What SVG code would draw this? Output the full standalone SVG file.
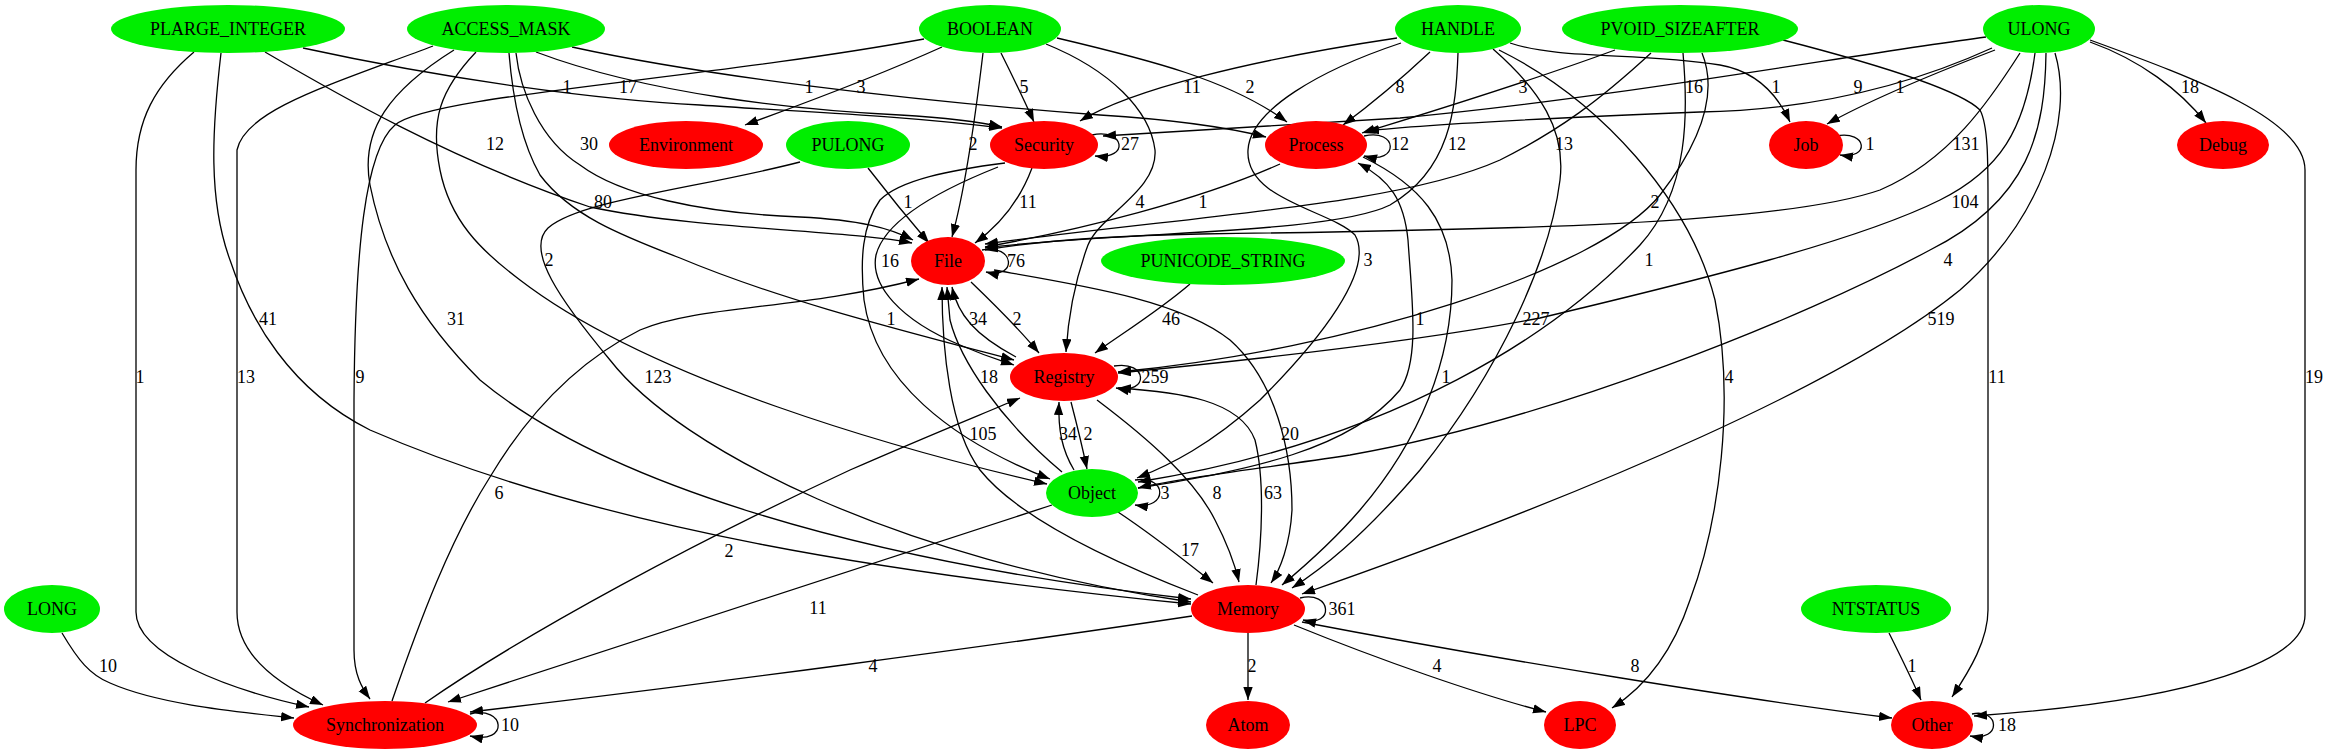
<svg xmlns="http://www.w3.org/2000/svg" width="2329" height="755" viewBox="0 0 2329 755">
<defs>
<marker id="ah" markerUnits="userSpaceOnUse" markerWidth="14" markerHeight="10" refX="13" refY="4.7" orient="auto">
<path d="M0,0 L13,4.7 L0,9.4 z" fill="#000"/>
</marker>
<style>
.g ellipse{fill:#00ee00;stroke:none}
.r ellipse{fill:#ff0000;stroke:none}
text{font-family:"Liberation Serif","Times New Roman",serif;font-size:18px;fill:#000;text-anchor:middle}
#edges path{fill:none;stroke:#000;stroke-width:1.3;marker-end:url(#ah)}
</style>
</defs>
<rect width="2329" height="755" fill="#fff"/>
<g id="edges">
<g><path d="M194,52 C155,85 136,120 136,170 L136,612 C136,655 230,690 309,707"/><text x="140" y="383">1</text></g>
<g><path d="M433,46 C330,85 245,110 237,150 L237,612 C237,660 290,690 323,705"/><text x="246" y="383">13</text></g>
<g><path d="M924,39 C700,80 430,95 395,125 C365,150 355,250 354,400 L354,650 C354,675 362,688 370,699"/><text x="360" y="383">9</text></g>
<g><path d="M62,633 C78,660 90,675 110,683 C160,705 240,712 294,718"/><text x="108" y="672">10</text></g>
<g><path d="M470,714 C505,705 510,745 470,736"/><text x="510" y="731">10</text></g>
<g><path d="M1052,505 C920,550 700,620 448,702"/><text x="818" y="614">11</text></g>
<g><path d="M1192,616 C1000,645 700,685 470,712"/><text x="873" y="672">4</text></g>
<g><path d="M425,703 C530,630 700,540 850,470 C930,435 980,415 1020,398"/><text x="729" y="557">2</text></g>
<g><path d="M392,701 C420,620 450,540 490,477 C530,410 580,360 640,330 C700,305 800,310 919,279"/><text x="499" y="499">6</text></g>
<g><path d="M221,53 C212,130 208,200 230,260 C250,320 290,390 370,430 C600,530 900,575 1191,604"/><text x="268" y="325">41</text></g>
<g><path d="M454,50 C390,90 360,130 370,185 C385,260 420,320 480,380 C600,480 850,560 1191,599"/><text x="456" y="325">31</text></g>
<g><path d="M800,162 C700,188 580,200 548,228 C525,250 560,300 610,360 C680,450 900,560 1191,602"/><text x="658" y="383">123</text></g>
<g><path d="M476,52 C440,90 430,120 440,170 C450,220 480,250 520,280 C650,380 900,450 1047,484"/><text x="549" y="266">2</text></g>
<g><path d="M509,53 C512,90 520,140 540,175 C570,215 620,235 680,258 C780,300 900,330 1014,360"/><text x="603" y="208">80</text></g>
<g><path d="M516,53 C520,90 540,140 580,165 C620,195 700,213 800,217 C860,220 890,228 913,240"/><text x="589" y="150">30</text></g>
<g><path d="M265,52 C330,90 450,160 590,207 C700,230 850,230 912,243"/><text x="495" y="150">12</text></g>
<g><path d="M536,52 C650,95 800,110 900,115 C950,118 980,122 1002,127"/><text x="628" y="93">17</text></g>
<g><path d="M303,48 C450,80 600,100 700,105 C800,112 900,115 1002,128"/><text x="567" y="93">1</text></g>
<g><path d="M572,47 C700,75 900,100 1100,115 C1180,120 1230,128 1266,137"/><text x="809" y="93">1</text></g>
<g><path d="M942,47 C880,75 800,105 745,125"/><text x="861" y="93">3</text></g>
<g><path d="M983,53 C975,120 965,190 952,237"/><text x="973" y="150">2</text></g>
<g><path d="M1001,53 C1012,75 1024,100 1034,122"/><text x="1024" y="93">5</text></g>
<g><path d="M1046,44 C1110,70 1150,110 1155,150 C1158,190 1100,215 1088,245 C1075,280 1068,320 1066,352"/><text x="1140" y="208">4</text></g>
<g><path d="M1057,38 C1150,60 1230,80 1287,122"/><text x="1250" y="93">2</text></g>
<g><path d="M1397,38 C1250,60 1130,90 1080,121"/><text x="1192" y="93">11</text></g>
<g><path d="M1430,52 C1400,80 1370,105 1343,125"/><text x="1400" y="93">8</text></g>
<g><path d="M1458,53 C1456,110 1450,170 1390,205 C1330,235 1100,232 985,248"/><text x="1457" y="150">12</text></g>
<g><path d="M1401,43 C1320,70 1250,110 1248,150 C1245,200 1330,210 1355,235 C1375,270 1320,340 1260,400 C1210,445 1170,465 1137,478"/><text x="1368" y="266">3</text></g>
<g><path d="M1493,49 C1540,90 1566,130 1560,180 C1550,260 1500,370 1420,470 C1360,540 1320,570 1292,588"/><text x="1564" y="150">13</text></g>
<g><path d="M1499,50 C1600,100 1690,200 1715,300 C1735,400 1720,520 1690,600 C1670,660 1640,690 1612,708"/><text x="1729" y="383">4</text></g>
<g><path d="M1510,43 C1560,60 1640,52 1720,65 C1760,72 1780,100 1790,122"/><text x="1776" y="93">1</text></g>
<g><path d="M1615,50 C1520,85 1420,115 1362,133"/><text x="1523" y="93">3</text></g>
<g><path d="M1651,53 C1600,100 1560,130 1500,160 C1400,205 1200,215 985,244"/><text x="1655" y="208">2</text></g>
<g><path d="M1683,53 C1688,110 1690,190 1640,245 C1560,330 1400,440 1138,482"/><text x="1649" y="266">1</text></g>
<g><path d="M1702,53 C1715,85 1710,130 1660,195 C1600,270 1350,350 1118,372"/><text x="1694" y="93">16</text></g>
<g><path d="M1783,40 C1880,65 1960,90 1980,110 C1988,125 1988,160 1988,200 L1988,610 C1988,640 1970,670 1952,697"/><text x="1997" y="383">11</text></g>
<g><path d="M1986,37 C1850,55 1600,100 1400,118 C1250,128 1160,132 1103,136"/><text x="1858" y="93">9</text></g>
<g><path d="M1992,48 C1900,90 1800,110 1700,112 C1550,118 1420,125 1366,131"/></g>
<g><path d="M1995,50 C1930,75 1870,100 1827,124"/><text x="1900" y="93">1</text></g>
<g><path d="M2020,53 C1990,100 1950,160 1880,190 C1780,225 1500,230 1200,234 C1100,236 1030,242 985,250"/><text x="1966" y="150">131</text></g>
<g><path d="M2035,53 C2025,130 2000,170 1940,200 C1860,240 1700,280 1540,318 C1400,345 1200,365 1118,373"/><text x="1965" y="208">104</text><text x="1536" y="325">227</text></g>
<g><path d="M2046,53 C2045,130 2030,200 1930,250 C1800,320 1550,420 1350,455 C1250,470 1180,478 1138,488"/><text x="1948" y="266">4</text></g>
<g><path d="M2055,53 C2075,120 2040,220 1960,290 C1850,380 1600,490 1302,594"/><text x="1941" y="325">519</text></g>
<g><path d="M2090,42 C2140,60 2180,90 2206,123"/><text x="2190" y="93">18</text></g>
<g><path d="M2090,40 C2200,80 2305,120 2305,170 L2305,615 C2305,660 2200,700 1974,716"/><text x="2314" y="383">19</text></g>
<g><path d="M868,168 C885,190 905,215 929,243"/><text x="908" y="208">1</text></g>
<g><path d="M1092,135 C1125,128 1130,160 1095,156"/><text x="1130" y="150">27</text></g>
<g><path d="M1032,168 C1020,200 1000,225 975,243"/><text x="1028" y="208">11</text></g>
<g><path d="M1005,163 C950,170 900,180 880,200 C862,225 860,260 864,300 C875,380 950,440 1050,479"/><text x="890" y="267">16</text></g>
<g><path d="M998,167 C940,190 885,220 876,255 C870,285 900,320 960,345 C990,358 1005,362 1014,365"/><text x="891" y="325">1</text></g>
<g><path d="M1364,136 C1398,128 1400,165 1364,156"/><text x="1400" y="150">12</text></g>
<g><path d="M1280,164 C1200,200 1080,230 985,247"/><text x="1203" y="208">1</text></g>
<g><path d="M1138,488 C1250,470 1350,450 1400,390 C1420,360 1412,300 1408,240 C1404,200 1390,180 1358,163"/><text x="1420" y="325">1</text></g>
<g><path d="M1363,157 C1420,185 1450,220 1452,280 C1452,360 1420,440 1360,510 C1330,545 1300,570 1282,585"/><text x="1446" y="383">1</text></g>
<g><path d="M982,250 C1015,243 1018,280 986,272"/><text x="1016" y="267">76</text></g>
<g><path d="M971,282 C995,305 1020,330 1039,353"/><text x="1017" y="325">2</text></g>
<g><path d="M1016,357 C975,335 958,315 952,287"/><text x="978" y="325">34</text></g>
<g><path d="M1062,472 C1000,420 960,360 950,320 L947,287"/><text x="989" y="383">18</text></g>
<g><path d="M1198,595 C1120,565 1020,520 980,470 C950,430 942,350 942,287"/><text x="983" y="440">105</text></g>
<g><path d="M994,270 C1080,285 1180,300 1230,340 C1275,380 1292,450 1292,510 C1290,545 1280,570 1271,583"/><text x="1290" y="440">20</text></g>
<g><path d="M1114,366 C1148,360 1150,395 1116,388"/><text x="1155" y="383">259</text></g>
<g><path d="M1071,402 C1077,425 1083,450 1087,469"/><text x="1088" y="440">2</text></g>
<g><path d="M1074,470 C1062,450 1058,430 1059,402"/><text x="1068" y="440">34</text></g>
<g><path d="M1097,400 C1150,440 1195,480 1215,520 C1228,545 1235,565 1239,582"/><text x="1217" y="499">8</text></g>
<g><path d="M1256,585 C1262,540 1265,480 1255,440 C1240,400 1180,392 1118,388"/><text x="1273" y="499">63</text></g>
<g><path d="M1135,480 C1168,475 1168,510 1135,505"/><text x="1165" y="499">3</text></g>
<g><path d="M1118,512 C1160,540 1190,565 1213,583"/><text x="1190" y="556">17</text></g>
<g><path d="M1190,284 C1160,310 1120,335 1095,353"/><text x="1171" y="325">46</text></g>
<g><path d="M1300,598 C1332,590 1335,628 1303,620"/><text x="1342" y="615">361</text></g>
<g><path d="M1248,633 L1248,700"/><text x="1252" y="672">2</text></g>
<g><path d="M1294,625 C1380,660 1480,695 1546,712"/><text x="1437" y="672">4</text></g>
<g><path d="M1302,622 C1500,660 1750,700 1892,718"/><text x="1635" y="672">8</text></g>
<g><path d="M1889,633 C1900,655 1910,675 1921,700"/><text x="1912" y="672">1</text></g>
<g><path d="M1972,714 C2000,708 2002,742 1970,736"/><text x="2007" y="731">18</text></g>
<g><path d="M1836,136 C1868,130 1870,160 1840,155"/><text x="1870" y="150">1</text></g>
</g>
<g id="n-PLARGE_INTEGER" class="g"><ellipse cx="228" cy="29" rx="117" ry="24"/><text x="228" y="35">PLARGE_INTEGER</text></g>
<g id="n-ACCESS_MASK" class="g"><ellipse cx="506" cy="29" rx="99" ry="24"/><text x="506" y="35">ACCESS_MASK</text></g>
<g id="n-BOOLEAN" class="g"><ellipse cx="990" cy="29" rx="71" ry="24"/><text x="990" y="35">BOOLEAN</text></g>
<g id="n-HANDLE" class="g"><ellipse cx="1458" cy="29" rx="63" ry="24"/><text x="1458" y="35">HANDLE</text></g>
<g id="n-PVOID_SIZEAFTER" class="g"><ellipse cx="1680" cy="29" rx="118" ry="24"/><text x="1680" y="35">PVOID_SIZEAFTER</text></g>
<g id="n-ULONG" class="g"><ellipse cx="2039" cy="29" rx="56" ry="24"/><text x="2039" y="35">ULONG</text></g>
<g id="n-Environment" class="r"><ellipse cx="686" cy="145" rx="77" ry="24"/><text x="686" y="151">Environment</text></g>
<g id="n-PULONG" class="g"><ellipse cx="848" cy="145" rx="62" ry="24"/><text x="848" y="151">PULONG</text></g>
<g id="n-Security" class="r"><ellipse cx="1044" cy="145" rx="54" ry="24"/><text x="1044" y="151">Security</text></g>
<g id="n-Process" class="r"><ellipse cx="1316" cy="145" rx="51" ry="24"/><text x="1316" y="151">Process</text></g>
<g id="n-Job" class="r"><ellipse cx="1806" cy="145" rx="37" ry="24"/><text x="1806" y="151">Job</text></g>
<g id="n-Debug" class="r"><ellipse cx="2223" cy="145" rx="46" ry="24"/><text x="2223" y="151">Debug</text></g>
<g id="n-File" class="r"><ellipse cx="948" cy="261" rx="37" ry="24"/><text x="948" y="267">File</text></g>
<g id="n-PUNICODE_STRING" class="g"><ellipse cx="1223" cy="261" rx="122" ry="24"/><text x="1223" y="267">PUNICODE_STRING</text></g>
<g id="n-Registry" class="r"><ellipse cx="1064" cy="377" rx="54" ry="24"/><text x="1064" y="383">Registry</text></g>
<g id="n-Object" class="g"><ellipse cx="1092" cy="493" rx="46" ry="24"/><text x="1092" y="499">Object</text></g>
<g id="n-LONG" class="g"><ellipse cx="52" cy="609" rx="48" ry="24"/><text x="52" y="615">LONG</text></g>
<g id="n-Memory" class="r"><ellipse cx="1248" cy="609" rx="57" ry="24"/><text x="1248" y="615">Memory</text></g>
<g id="n-NTSTATUS" class="g"><ellipse cx="1876" cy="609" rx="75" ry="24"/><text x="1876" y="615">NTSTATUS</text></g>
<g id="n-Synchronization" class="r"><ellipse cx="385" cy="725" rx="92" ry="24"/><text x="385" y="731">Synchronization</text></g>
<g id="n-Atom" class="r"><ellipse cx="1248" cy="725" rx="42" ry="24"/><text x="1248" y="731">Atom</text></g>
<g id="n-LPC" class="r"><ellipse cx="1580" cy="725" rx="36" ry="24"/><text x="1580" y="731">LPC</text></g>
<g id="n-Other" class="r"><ellipse cx="1932" cy="725" rx="41" ry="24"/><text x="1932" y="731">Other</text></g>
</svg>
